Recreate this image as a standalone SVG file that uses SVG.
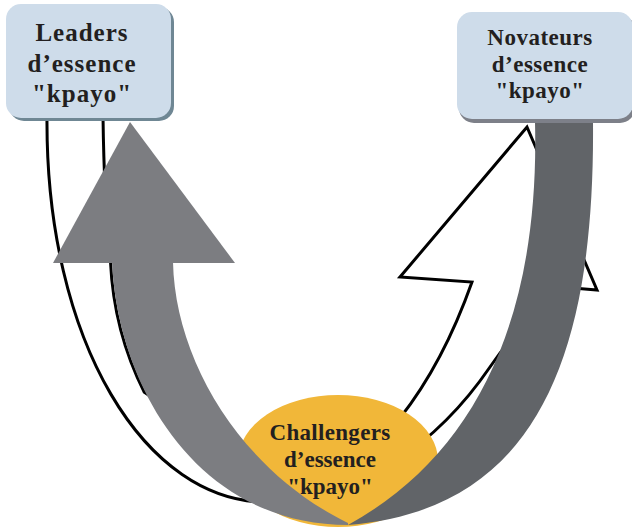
<svg xmlns="http://www.w3.org/2000/svg" width="632" height="530" viewBox="0 0 632 530">
  <style>
    .lbl { font-family: "Liberation Serif", "Times New Roman", serif; font-weight: bold; fill: #231f20; text-anchor: middle; }
    .box { fill: #cedcea; }
    .outline { fill: #ffffff; stroke: #000000; stroke-width: 3; stroke-linejoin: miter; }
    .gl { fill: #7c7d81; }
    .gd { fill: #616468; }
  </style>
  <rect width="632" height="530" fill="#ffffff"/>
  <g id="connectors">
    <path class="outline" d="M527,127 L597,290 L573,288 C550,300 520,323 490,367 C440,440 360,502 270,502 C145,505 45,340 47,116 L103,116 C104,190 107,230 110.5,262 C112.6,306.8 124,352 144.3,392.3 L260,470 C300,500 370,480 400,418 C430,380 455,330 472,282 L400,277 Z"/>
  </g>
  <g id="challengers">
    <ellipse cx="338" cy="461" rx="100" ry="66" fill="#f1b739"/>
  </g>
  <g id="connectors-gray">
    <path class="gd" d="M535,110 L593,110 L593,122 C595,360 535,510 348,525 C475,455 540,320 535,122 Z"/>
    <path class="gl" d="M348,525 C200,525 118,390 112,262 L173,262 C175,360 240,470 348,523 Z"/>
    <polygon class="gl" points="53,263 235,263 130,122"/>
  </g>
  <g id="challengers-label">
    <text class="lbl" x="330" y="440" font-size="23" letter-spacing="0.3">Challengers</text>
    <text class="lbl" x="330" y="467" font-size="23">d’essence</text>
    <text class="lbl" x="330" y="494" font-size="23">"kpayo"</text>
  </g>
  <g id="leaders">
    <rect x="9" y="7" width="165" height="114" rx="15" fill="#6f8794"/>
    <rect class="box" x="6" y="4" width="165" height="114" rx="15"/>
    <text class="lbl" x="82" y="41" font-size="25" letter-spacing="1">Leaders</text>
    <text class="lbl" x="82" y="71.5" font-size="25" letter-spacing="1">d’essence</text>
    <text class="lbl" x="82" y="102" font-size="25" letter-spacing="1">"kpayo"</text>
  </g>
  <g id="novateurs">
    <rect x="459" y="15" width="176" height="108" rx="15" fill="#7d8089"/>
    <rect class="box" x="457" y="12" width="176" height="107" rx="15"/>
    <text class="lbl" x="540" y="45" font-size="23" letter-spacing="0.5">Novateurs</text>
    <text class="lbl" x="540" y="72" font-size="23" letter-spacing="0.5">d’essence</text>
    <text class="lbl" x="540" y="98" font-size="23" letter-spacing="0.5">"kpayo"</text>
  </g>
</svg>
